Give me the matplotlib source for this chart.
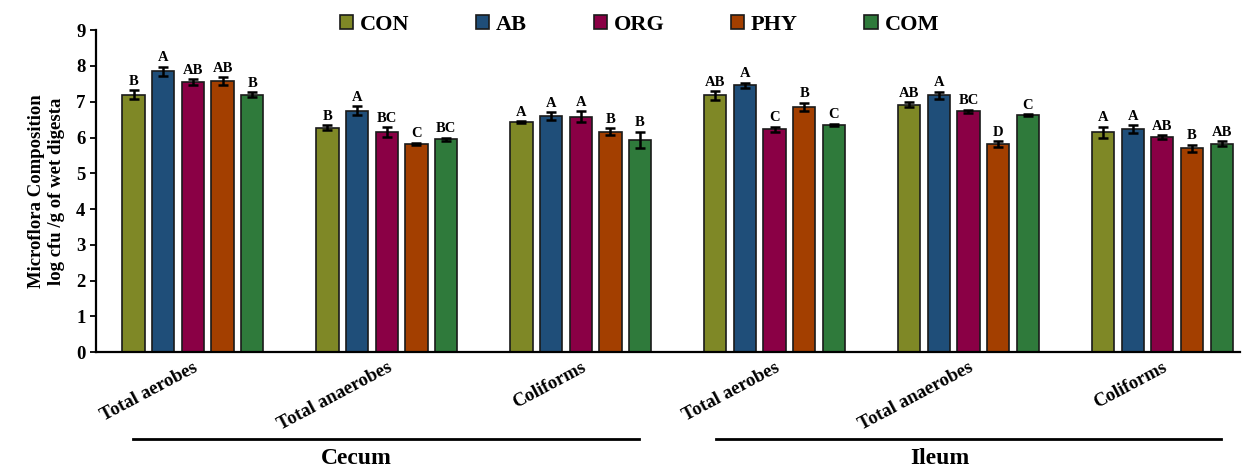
import numpy as np
from matplotlib import pyplot as plt
from matplotlib.lines import Line2D
from matplotlib.transforms import blended_transform_factory

plt.rcParams['font.family'] = ['Liberation Serif', 'DejaVu Serif']
plt.rcParams['font.weight'] = 'bold'

categories = ['Total aerobes', 'Total anaerobes', 'Coliforms',
              'Total aerobes', 'Total anaerobes', 'Coliforms']
treatments = ['CON', 'AB', 'ORG', 'PHY', 'COM']
colors = ['#7f8826', '#1f4e79', '#8a0045', '#a33f00', '#2f7a3b']

con = [7.20, 6.27, 6.43, 7.18, 6.92, 6.15]
ab = [7.85, 6.75, 6.60, 7.46, 7.18, 6.24]
org = [7.55, 6.15, 6.58, 6.23, 6.73, 6.01]
phy = [7.58, 5.82, 6.16, 6.85, 5.82, 5.70]
com = [7.20, 5.95, 5.94, 6.36, 6.62, 5.83]

con_err = [0.12, 0.07, 0.03, 0.12, 0.07, 0.15]
ab_err = [0.13, 0.13, 0.10, 0.07, 0.10, 0.10]
org_err = [0.08, 0.14, 0.15, 0.07, 0.04, 0.05]
phy_err = [0.10, 0.03, 0.10, 0.12, 0.08, 0.10]
com_err = [0.07, 0.05, 0.22, 0.03, 0.03, 0.06]

con_let = ['B', 'B', 'A', 'AB', 'AB', 'A']
ab_let = ['A', 'A', 'A', 'A', 'A', 'A']
org_let = ['AB', 'BC', 'A', 'C', 'BC', 'AB']
phy_let = ['AB', 'C', 'B', 'B', 'D', 'B']
com_let = ['B', 'BC', 'B', 'C', 'C', 'AB']

sites = ['Cecum', 'Ileum']

values = [con, ab, org, phy, com]
errors = [con_err, ab_err, org_err, phy_err, com_err]
letters = [con_let, ab_let, org_let, phy_let, com_let]

fig = plt.figure(figsize=(12.42, 4.72), dpi=100)
ax = fig.add_axes([0.0773, 0.254, 0.921, 0.682])

x = np.arange(len(categories))
step = 0.153
width = 0.115
for i, name in enumerate(treatments):
    pos = x + (i - 2) * step
    ax.bar(pos, values[i], width, color=colors[i], edgecolor='#1a1a1a',
           linewidth=1.2, label=name, zorder=2)
    ax.errorbar(pos, values[i], yerr=errors[i], fmt='none', ecolor='black',
                elinewidth=1.8, capsize=3.5, capthick=1.8, zorder=3)
    for p, v, e, t in zip(pos, values[i], errors[i], letters[i]):
        ax.text(p, v + e + 0.07, t, ha='center', va='bottom',
                fontsize=10.5, fontweight='bold')

ax.set_xlim(-0.5, 5.40)
ax.set_ylim(0, 9)
ax.set_yticks(range(0, 10))
ax.tick_params(axis='y', labelsize=13.5, width=1.3, length=4)
ax.tick_params(axis='x', length=0, pad=5)
ax.set_xticks(x)
ax.set_xticklabels(categories, rotation=28, ha='right',
                   rotation_mode='anchor', fontsize=13.5, fontweight='bold')
for side in ['top', 'right']:
    ax.spines[side].set_visible(False)
for side in ['left', 'bottom']:
    ax.spines[side].set_linewidth(1.6)

ax.set_ylabel('Microflora Composition\nlog cfu /g of wet digesta',
              fontsize=13.5, fontweight='bold', labelpad=8)

ax.legend(loc='upper center', bbox_to_anchor=(0.475, 1.11), ncol=5,
          frameon=False, handlelength=0.6, handleheight=0.6,
          handletextpad=0.3, columnspacing=3.0, prop={'weight': 'bold', 'size': 16})

trans = blended_transform_factory(ax.transData, ax.transAxes)
spans = [(-0.31, 2.30), (2.70, 5.30)]
for (a, b), s in zip(spans, sites):
    ax.add_line(Line2D([a, b], [-0.27, -0.27], transform=trans, color='black',
                       linewidth=2.0, clip_on=False))
    ax.text((a + b) / 2 - 0.15, -0.33, s, transform=trans, ha='center',
            va='center', fontsize=17, fontweight='bold')

fig.savefig('out.png', dpi=100)
